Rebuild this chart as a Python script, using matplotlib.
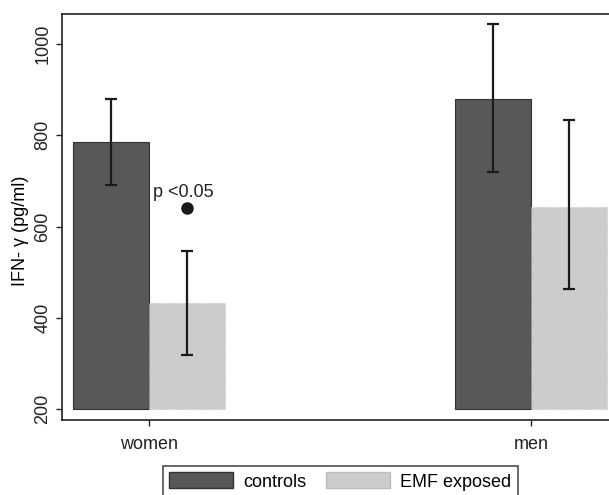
import matplotlib
matplotlib.use("Agg")
import matplotlib.pyplot as plt
import numpy as np
from matplotlib.patches import Patch

plt.rcParams['font.family'] = ['Liberation Sans', 'DejaVu Sans']

groups = ["women", "men"]
series = ["controls", "EMF exposed"]
means_controls = [785, 879]
err_lo_controls = [692, 719]
err_hi_controls = [879, 1044]
means_emf = [433, 644]
err_lo_emf = [319, 464]
err_hi_emf = [546, 833]
sig_point_value = 640
sig_label = "p <0.05"
yticks = [200, 400, 600, 800, 1000]

dark = "#585858"
light = "#cccccc"
FS = 13

fig = plt.figure(figsize=(6.09, 4.95), dpi=100)
ax = fig.add_axes([62/609, 75/495, 547/609, 406/495])

x = np.arange(len(groups))
w = 0.2
base = 200
ax.bar(x - w/2, np.array(means_controls) - base, w, bottom=base,
       color=dark, edgecolor="#333333", linewidth=0.8, zorder=2)
ax.bar(x + w/2, np.array(means_emf) - base, w, bottom=base,
       color=light, edgecolor="#bdbdbd", linewidth=0.6, linestyle=":", zorder=2)

for xs, lo, hi in [(x - w/2, err_lo_controls, err_hi_controls),
                   (x + w/2, err_lo_emf, err_hi_emf)]:
    for xi, l, h in zip(xs, lo, hi):
        m = (l + h) / 2
        ax.errorbar(xi, m, yerr=[[m - l], [h - m]], fmt="none", ecolor="#1a1a1a",
                    elinewidth=1.6, capsize=4.5, capthick=1.6, zorder=3)

ax.plot(x[0] + w/2, sig_point_value, "o", color="#1a1a1a", markersize=8, zorder=4)
ax.text(x[0] + w/2 - 0.01, sig_point_value + 16, sig_label, ha="center", va="bottom",
        fontsize=FS, color="#222222")

ax.set_xlim(-0.228, 1.204)
ax.set_ylim(176, 1066)
ax.set_xticks(x)
ax.set_xticklabels(groups, fontsize=FS)
ax.set_yticks(yticks)
ax.set_yticklabels([str(t) for t in yticks], fontsize=FS, rotation=90, va="center")
ax.set_ylabel("IFN- γ (pg/ml)", fontsize=FS)
ax.yaxis.set_label_coords(-0.06, 0.466)
ax.spines["right"].set_visible(False)
for s in ["top", "left", "bottom"]:
    ax.spines[s].set_linewidth(1.2)
    ax.spines[s].set_color("#222222")
ax.tick_params(axis="both", length=4.5, width=1, color="#222222", labelcolor="#222222")
ax.tick_params(axis="x", pad=7)
ax.tick_params(axis="y", pad=3)

handles = [Patch(facecolor=dark, edgecolor="#333333", label=series[0]),
           Patch(facecolor=light, edgecolor="#bdbdbd", label=series[1])]
leg = fig.legend(handles=handles, loc="upper left", bbox_to_anchor=(163/609, 1 - 466/495),
                 ncol=2, frameon=True, fancybox=False, fontsize=FS,
                 handlelength=3.5, handleheight=1.0, columnspacing=1.1, borderpad=0.35,
                 handletextpad=0.6, borderaxespad=0)
leg.get_frame().set_edgecolor("#222222")
leg.get_frame().set_linewidth(1.2)

fig.savefig("out.png", dpi=100)
